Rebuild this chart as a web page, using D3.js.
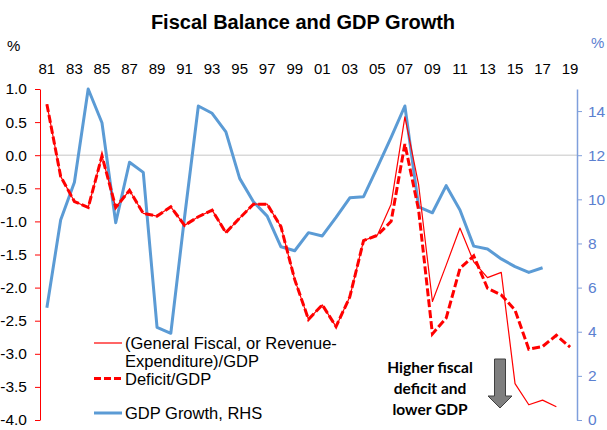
<!DOCTYPE html>
<html><head><meta charset="utf-8">
<script src="https://cdn.jsdelivr.net/npm/d3@7"></script>
<style>
html,body{margin:0;padding:0;background:#fff;}
svg{display:block;font-family:"Liberation Sans",Arial,sans-serif;}
</style></head>
<body><svg id="chart" width="607" height="430"></svg>
<script>
const years = [1981,1982,1983,1984,1985,1986,1987,1988,1989,1990,1991,1992,1993,1994,1995,1996,1997,1998,1999,2000,2001,2002,2003,2004,2005,2006,2007,2008,2009,2010,2011,2012,2013,2014,2015,2016,2017,2018,2019];
const yearLabels = ["81","83","85","87","89","91","93","95","97","99","01","03","05","07","09","11","13","15","17","19"];
const deficit = [0.77,-0.32,-0.70,-0.79,-0.01,-0.79,-0.53,-0.88,-0.92,-0.78,
  -1.06,-0.93,-0.83,-1.17,-0.95,-0.74,-0.74,-1.08,-1.88,-2.48,
  -2.26,-2.59,-2.14,-1.29,-1.21,-1.00,0.17,-0.83,-2.70,-2.46,
  -1.71,-1.52,-2.01,-2.11,-2.34,-2.93,-2.89,-2.72,-2.90];
const generalFiscal = [0.77,-0.32,-0.70,-0.79,-0.01,-0.79,-0.53,-0.88,-0.92,-0.78,
  -1.06,-0.93,-0.83,-1.17,-0.95,-0.74,-0.74,-1.08,-1.88,-2.48,
  -2.26,-2.59,-2.14,-1.29,-1.21,-0.74,0.58,-0.45,-2.21,-1.66,
  -1.10,-1.61,-1.85,-1.77,-3.45,-3.77,-3.70,-3.80,null];
const gdpGrowth = [5.09,9.06,10.77,15.0,13.47,8.94,11.68,11.22,4.20,3.93,
  9.2,14.23,13.9,13.06,10.95,9.89,9.24,7.85,7.67,8.49,
  8.34,9.18,10.07,10.12,11.45,12.81,14.23,9.66,9.39,10.62,
  9.52,7.88,7.75,7.30,6.95,6.69,6.90,null,null];
const leftTicks = [1.0,0.5,0.0,-0.5,-1.0,-1.5,-2.0,-2.5,-3.0,-3.5,-4.0];
const rightTicks = [0,2,4,6,8,10,12,14];

const svg = d3.select("#chart");
const L = 40, R = 577, T = 89, B = 420;
const x = d3.scaleBand().domain(years).range([L, R]);
const cx = d => x(d) + x.bandwidth()/2;
const yL = d3.scaleLinear().domain([-4, 1]).range([B, T]);
const yR = d3.scaleLinear().domain([0, 15]).range([B, T]);

// title
svg.append("text").attr("x", 303).attr("y", 29).attr("text-anchor","middle")
  .attr("font-size", 20).attr("font-weight","bold").attr("fill","#000")
  .text("Fiscal Balance and GDP Growth");
svg.append("text").attr("x", 7).attr("y", 51).attr("font-size", 15).text("%");
svg.append("text").attr("x", 591).attr("y", 48).attr("font-size", 15).attr("fill","#5b80d0").text("%");

// zero gridline
svg.append("line").attr("x1", L).attr("x2", R).attr("y1", yL(0)).attr("y2", yL(0))
  .attr("stroke","#d9d9d9").attr("stroke-width",1.5);

// top year labels
const lab = new Set(yearLabels);
svg.append("g").selectAll("text").data(years.filter(y => lab.has(String(y).slice(2))))
  .join("text").attr("x", d => cx(d)).attr("y", 74).attr("text-anchor","middle")
  .attr("font-size", 15).attr("fill","#000").text(d => String(d).slice(2));

// left axis
const gl = svg.append("g").attr("transform", `translate(${L},0)`)
  .call(d3.axisLeft(yL).tickValues(leftTicks).tickFormat(d3.format(".1f")).tickSize(5).tickSizeOuter(0).tickPadding(8));
gl.select(".domain").attr("stroke","#ff0000");
gl.selectAll(".tick line").attr("stroke","#ff0000");
gl.selectAll(".tick text").attr("font-size",15.5).attr("fill","#000").attr("font-family","Liberation Sans, Arial, sans-serif")
  .text(d => d3.format(".1f")(d).replace("−", "-"));

// right axis
const gr = svg.append("g").attr("transform", `translate(${R},0)`)
  .call(d3.axisRight(yR).tickValues(rightTicks).tickFormat(d3.format("d")).tickSize(5).tickSizeOuter(0).tickPadding(6));
gr.select(".domain").attr("stroke","#7f9fdc").attr("stroke-width",1.5);
gr.selectAll(".tick line").attr("stroke","#7f9fdc");
gr.selectAll(".tick text").attr("font-size",15.5).attr("fill","#5b80d0").attr("font-family","Liberation Sans, Arial, sans-serif");

// lines
const lineL = d3.line().defined(d => d[1] != null).x(d => cx(d[0])).y(d => yL(d[1]));
const lineR = d3.line().defined(d => d[1] != null).x(d => cx(d[0])).y(d => yR(d[1]));
svg.append("path").datum(years.map((y,i)=>[y, gdpGrowth[i]])).attr("d", lineR)
  .attr("fill","none").attr("stroke","#5b9bd5").attr("stroke-width",3).attr("stroke-linejoin","round");
svg.append("path").datum(years.map((y,i)=>[y, generalFiscal[i]])).attr("d", lineL)
  .attr("fill","none").attr("stroke","#ff0000").attr("stroke-width",1.2).attr("stroke-linejoin","round");
svg.append("path").datum(years.map((y,i)=>[y, deficit[i]])).attr("d", lineL)
  .attr("fill","none").attr("stroke","#ff0000").attr("stroke-width",3).attr("stroke-dasharray","8,3");

// legend
const lg = svg.append("g");
lg.append("line").attr("x1",94).attr("x2",122).attr("y1",343).attr("y2",343).attr("stroke","#ff0000").attr("stroke-width",1.2);
lg.append("text").attr("x",125).attr("y",349).attr("font-size",16.5).text("(General Fiscal, or Revenue-");
lg.append("text").attr("x",125).attr("y",367).attr("font-size",16.5).text("Expenditure)/GDP");
lg.append("line").attr("x1",94).attr("x2",122).attr("y1",378.5).attr("y2",378.5).attr("stroke","#ff0000").attr("stroke-width",3).attr("stroke-dasharray","7,3");
lg.append("text").attr("x",125).attr("y",384.5).attr("font-size",16.5).text("Deficit/GDP");
lg.append("line").attr("x1",94).attr("x2",122).attr("y1",413).attr("y2",413).attr("stroke","#5b9bd5").attr("stroke-width",3);
lg.append("text").attr("x",125).attr("y",419).attr("font-size",16.5).text("GDP Growth, RHS");

// annotation
const ann = ["Higher fiscal","deficit and","lower GDP"];
svg.append("g").selectAll("text").data(ann).join("text")
  .attr("x", 430).attr("y", (d,i) => 373 + i*21).attr("text-anchor","middle")
  .attr("font-family","Lato, 'Open Sans', sans-serif").attr("font-weight","bold").attr("font-size",15.5).attr("fill","#000")
  .text(d => d);
svg.append("path")
  .attr("d","M494.5,359 L505.5,359 L505.5,396 L512,396 L500,408 L488,396 L494.5,396 Z")
  .attr("fill","#7f7f7f").attr("stroke","#404040").attr("stroke-width",1);
</script></body></html>
